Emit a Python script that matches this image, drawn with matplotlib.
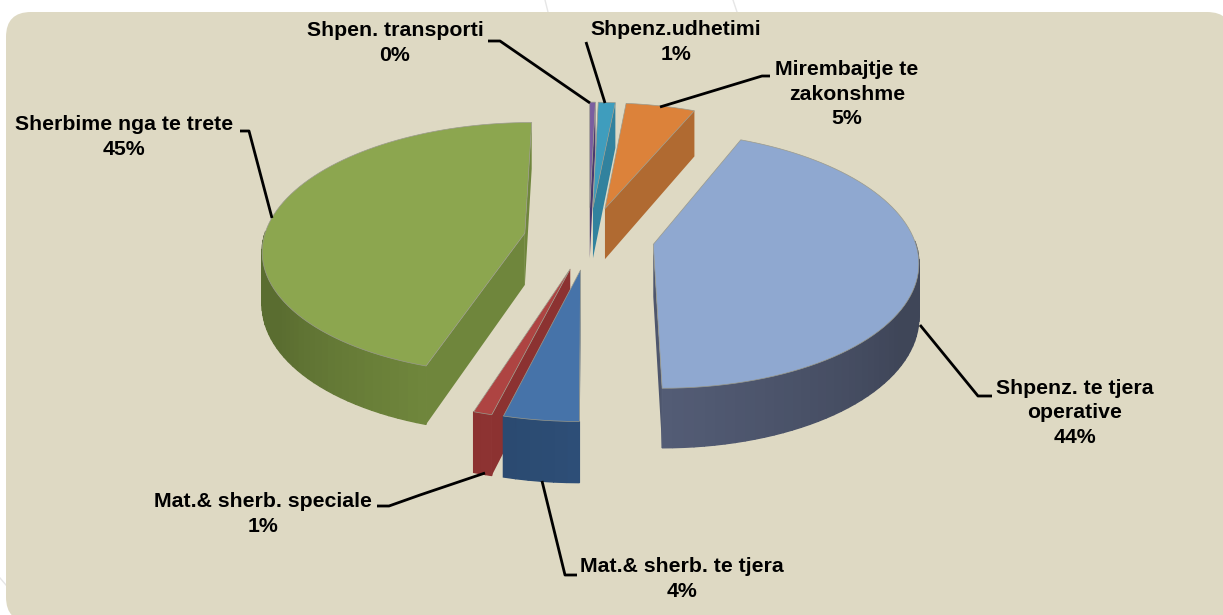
import numpy as np
import matplotlib
matplotlib.use('Agg')
from matplotlib import pyplot as plt
from matplotlib.patches import FancyBboxPatch, Polygon

plt.rcParams['font.family'] = ['Liberation Sans', 'DejaVu Sans']

labels = ['Shpen. transporti', 'Shpenz.udhetimi', 'Mirembajtje te\nzakonshme',
          'Shpenz. te tjera\noperative', 'Mat.& sherb. te tjera',
          'Mat.& sherb. speciale', 'Sherbime nga te trete']
values = [0.4, 1.2, 4.9, 43.5, 4.0, 1.0, 45.0]
top_colors = ['#7A5EA0', '#3F9DBD', '#DC823A', '#8FA8D0', '#4673A9', '#AE4442', '#8CA64F']
wall_colors = ['#46366A', '#2F7C96', '#A8652F', '#4A5268', '#284569', '#85302F', '#6A8039']

# pixel positions of the text and the leader lines
label_pos = [(395, 43), (676, 42), (847, 94), (1075, 413), (682, 579), (263, 514), (124, 137)]
leaders = [[(488, 41), (500, 41), (590, 103)],
           [(586, 42), (605, 103)],
           [(660, 107), (762, 76), (770, 76)],
           [(920, 325), (978, 396), (992, 396)],
           [(542, 481), (565, 575), (577, 575)],
           [(485, 473), (420, 495), (389, 506), (377, 506)],
           [(240, 131), (249, 131), (272, 218)]]
# faint arcs of the slide background, they show in the white margin
margin_arcs = [[(545, 0), (548, 12)], [(733, 0), (737, 12)], [(0, 578), (6, 585)]]

CX, CY = 589, 238
RX, RY = 261, 125
PERSP = 0.12
DEPTH = 52
EXPLODE = 0.25


def project(u, v, z=0.0):
    w = 1 + PERSP * v
    return CX + RX * u / w, CY - RY * v / w + DEPTH * z / w


def shade(color, f):
    rgb = np.array(matplotlib.colors.to_rgb(color))
    return tuple(np.clip(rgb * f, 0, 1))


def draw_slice(ax, t1, t2, top, wall):
    mid = (t1 + t2) / 2
    ou, ov = EXPLODE * np.sin(mid), EXPLODE * np.cos(mid)
    th = np.linspace(t1, t2, max(int(np.degrees(t2 - t1) / 2), 4))
    us, vs = ou + np.sin(th), ov + np.cos(th)

    rim = [project(u, v) for u, v in zip(us, vs)]
    apex = project(ou, ov)
    inside = np.mean(np.array(rim + [apex]), axis=0)

    # cut faces, only those turned to the viewer
    for r in [(us[0], vs[0]), (us[-1], vs[-1])]:
        p = project(*r)
        # inside point above the edge means the face looks down at us
        at_x = apex[1] + (p[1] - apex[1]) * (inside[0] - apex[0]) / (p[0] - apex[0] + 1e-9)
        if inside[1] < at_x:
            quad = [apex, p, project(r[0], r[1], 1), project(ou, ov, 1)]
            ax.add_patch(Polygon(quad, closed=True, fc=shade(wall, 1.05), ec='none', zorder=2))

    # outer wall in narrow strips so it can be shaded
    for i in range(len(th) - 1):
        if np.cos((th[i] + th[i + 1]) / 2) > 0.02:
            continue
        quad = [project(us[i], vs[i]), project(us[i + 1], vs[i + 1]),
                project(us[i + 1], vs[i + 1], 1), project(us[i], vs[i], 1)]
        f = 1.13 - 0.28 * min(abs(np.degrees(th[i]) - 180) / 60, 1)
        ax.add_patch(Polygon(quad, closed=True, fc=shade(wall, f), ec=shade(wall, f), lw=1.0, zorder=3))

    ax.add_patch(Polygon(rim + [apex], closed=True, fc=top, ec='#9a9a8c', lw=0.5, zorder=4))


fig = plt.figure(figsize=(12.23, 6.15), dpi=100, facecolor='white')
ax = fig.add_axes([0, 0, 1, 1])
ax.set_xlim(0, 1223)
ax.set_ylim(615, 0)
ax.axis('off')

for line in margin_arcs:
    xs, ys = zip(*line)
    ax.plot(xs, ys, color='#e6e6e6', lw=1, zorder=0)

ax.add_patch(FancyBboxPatch((6, 12), 1226, 610, boxstyle='round,pad=0,rounding_size=25',
                            fc='#DED9C3', ec='none', zorder=1))

edges = np.radians(np.cumsum([0] + values) * 3.6)
order = [0, 1, 2, 3, 6, 5, 4]
for i in order:
    draw_slice(ax, edges[i], edges[i + 1], top_colors[i], wall_colors[i])

for line in leaders:
    xs, ys = zip(*line)
    ax.plot(xs, ys, color='black', lw=2, solid_capstyle='butt', solid_joinstyle='round', zorder=5)

for name, val, (x, y) in zip(labels, values, label_pos):
    ax.text(x, y, '%s\n%.0f%%' % (name, val), ha='center', va='center', fontsize=15.3,
            fontweight='bold', color='black', linespacing=1.35, zorder=6)

fig.savefig('out.png', dpi=100)
